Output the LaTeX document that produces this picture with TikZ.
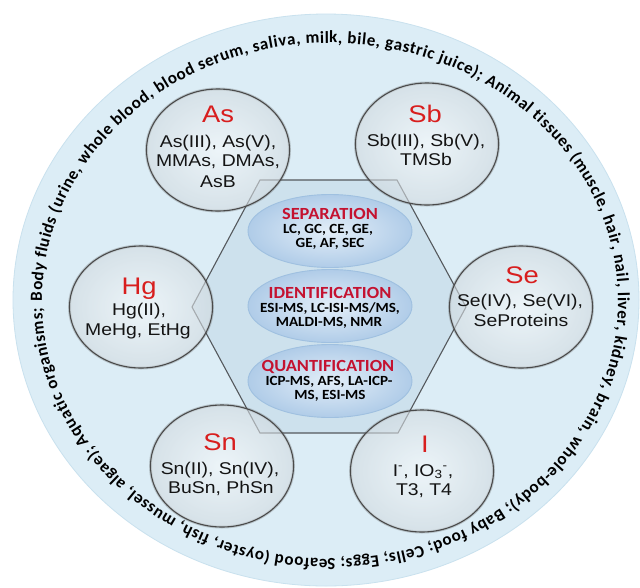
\documentclass[tikz,border=0pt]{standalone}
\usepackage{fontspec}
\usepackage{graphicx}
\setmainfont{Liberation Sans}
\newfontfamily\calfont{Carlito}
\usetikzlibrary{decorations.text,shapes.geometric}
\definecolor{bgblue}{HTML}{DCEDF6}
\definecolor{bgedge}{HTML}{C9E1EE}
\definecolor{hexfill}{HTML}{CDE1ED}
\definecolor{hexline}{HTML}{55595D}
\definecolor{elred}{HTML}{D81E1E}
\definecolor{hdred}{HTML}{C41230}
\definecolor{txtc}{HTML}{141414}
\definecolor{ellline}{HTML}{9FC0E0}
\definecolor{ellin}{HTML}{E3EEF8}
\definecolor{ellout}{HTML}{B0CCE8}
\definecolor{cirin}{HTML}{F8FAFB}
\definecolor{cirout}{HTML}{D2DADF}
\definecolor{cirline}{HTML}{4A4A4A}
\newcommand\stretchA[1]{\scalebox{1.14}[1]{#1}}
\newcommand\stretchB[1]{\scalebox{1.08}[1]{#1}}
\tikzset{
  bigdisc/.style={ellipse, minimum width=626pt, minimum height=572pt, inner sep=0pt,
    fill=bgblue, draw=bgedge, line width=0.8pt},
  hexshape/.style={fill=hexfill, draw=hexline, line width=1.1pt, line join=miter},
  methodell/.style={ellipse, minimum width=164pt, minimum height=73pt, inner sep=0pt,
    inner color=ellin, outer color=ellout, draw=ellline, line width=0.9pt},
  species/.style={ellipse, minimum width=143pt, minimum height=122pt, inner sep=0pt,
    inner color=cirin, outer color=cirout, fill opacity=0.6, draw=cirline, line width=1.1pt,
    preaction={draw=cirline, line width=3pt, draw opacity=0.25}},
  elem/.style={font=\fontsize{24}{24}\selectfont, text=elred, anchor=base, inner sep=0pt},
  item/.style={font=\fontsize{17}{17}\selectfont, text=txtc, anchor=base, inner sep=0pt},
  hdr/.style={font=\calfont\bfseries\fontsize{17}{17}\selectfont, text=hdred, anchor=base, inner sep=0pt},
  meth/.style={font=\calfont\bfseries\fontsize{14}{14}\selectfont, text=black, anchor=base, inner sep=0pt}
}
\begin{document}
\begin{tikzpicture}[x=1pt,y=1pt]
\useasboundingbox (0,0) rectangle (640,-587);
\fill[white] (0,0) rectangle (640,-587);
% outer ring
\node[bigdisc] (ring) at (326,-300) {};
\path[decorate, decoration={text along path, text align={fit to path},
  text={|\calfont\bfseries\fontsize{17}{17}\selectfont|Body fluids (urine, whole blood, blood serum, saliva, milk, bile, gastric juice); Animal tissues (muscle, hair, nail, liver, kidney, brain, whole-body); Baby food; Cells; Eggs; Seafood (oyster, fish, mussel, algae); Aquatic organisms;}}]
  (42,-301) arc[start angle=180, end angle=-178.3, x radius=288, y radius=258];
% hexagon
\coordinate (h1) at (260,-180);
\coordinate (h2) at (397,-180);
\coordinate (h3) at (466,-307);
\coordinate (h4) at (398,-433);
\coordinate (h5) at (260,-433);
\coordinate (h6) at (192,-307);
\draw[hexshape] (h1) -- (h2) -- (h3) -- (h4) -- (h5) -- (h6) -- cycle;
% method ellipses
\node[methodell] (sep) at (330,-231) {};
\node[methodell] (ide) at (330,-306) {};
\node[methodell] (qua) at (330,-381) {};
\node[hdr] (sepH) at (330,-219) {\stretchB{SEPARATION}};
\node[meth] (sep1) at (328,-233) {\stretchB{LC, GC, CE, GE,}};
\node[meth] (sep2) at (330,-247) {\stretchB{GE, AF, SEC}};
\node[hdr] (ideH) at (330,-298) {\stretchB{IDENTIFICATION}};
\node[meth] (ide1) at (330,-312) {\stretchB{ESI-MS, LC-ISI-MS/MS,}};
\node[meth] (ide2) at (329,-326) {\stretchB{MALDI-MS, NMR}};
\node[hdr] (quaH) at (328,-371) {\stretchB{QUANTIFICATION}};
\node[meth] (qua1) at (329,-385) {\stretchB{ICP-MS, AFS, LA-ICP-}};
\node[meth] (qua2) at (330,-399) {\stretchB{MS, ESI-MS}};
% species circles
\node[species] (As) at (218,-150) {};
\node[species] (Sb) at (427,-144) {};
\node[species] (Hg) at (141,-307) {};
\node[species] (Se) at (521,-307) {};
\node[species] (Sn) at (222,-466) {};
\node[species] (I) at (422,-471) {};
% species texts
\node[elem] (AsL) at (218,-122) {\stretchA{As}};
\node[item] (As1) at (218,-147) {\stretchA{As(III), As(V),}};
\node[item] (As2) at (218,-166) {\stretchA{MMAs, DMAs,}};
\node[item] (As3) at (218,-187) {\stretchA{AsB}};
\node[elem] (SbL) at (425,-122) {\stretchA{Sb}};
\node[item] (Sb1) at (426,-146) {\stretchA{Sb(III), Sb(V),}};
\node[item] (Sb2) at (426,-165) {\stretchA{TMSb}};
\node[elem] (HgL) at (139,-294) {\stretchA{Hg}};
\node[item] (Hg1) at (139,-315) {\stretchA{Hg(II),}};
\node[item] (Hg2) at (138,-335) {\stretchA{MeHg, EtHg}};
\node[elem] (SeL) at (522,-283) {\stretchA{Se}};
\node[item] (Se1) at (520,-306) {\stretchA{Se(IV), Se(VI),}};
\node[item] (Se2) at (521,-326) {\stretchA{SeProteins}};
\node[elem] (SnL) at (220,-450) {\stretchA{Sn}};
\node[item] (Sn1) at (220,-474) {\stretchA{Sn(II), Sn(IV),}};
\node[item] (Sn2) at (221,-493) {\stretchA{BuSn, PhSn}};
\node[elem] (IL) at (425,-452) {\stretchA{I}};
\node[item] (I1) at (423,-476) {\stretchA{I\textsuperscript{-}, IO\textsubscript{3}\textsuperscript{-},}};
\node[item] (I2) at (424,-495) {\stretchA{T3, T4}};
\end{tikzpicture}
\end{document}
